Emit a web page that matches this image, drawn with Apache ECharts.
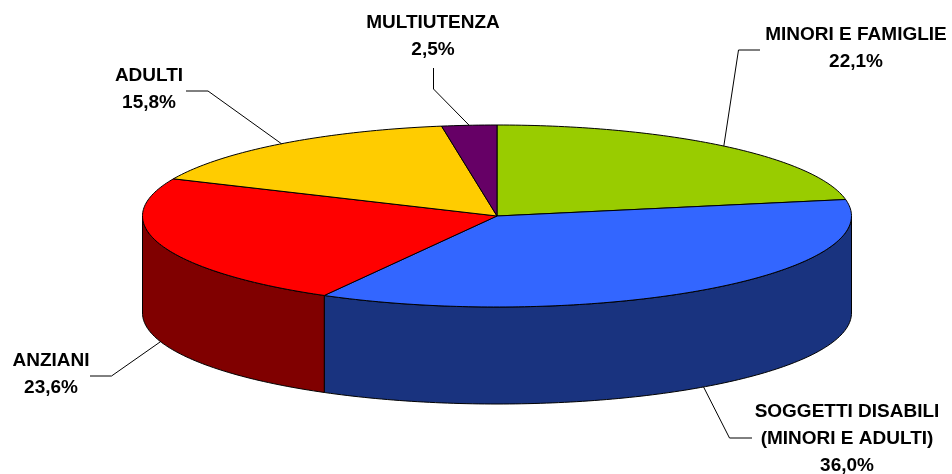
<!DOCTYPE html>
<html>
<head>
<meta charset="utf-8">
<style>
html, body { margin: 0; padding: 0; background: #fff; }
#chart { width: 952px; height: 474px; }
</style>
<script src="https://cdn.jsdelivr.net/npm/echarts@6/dist/echarts.min.js"></script>
</head>
<body>
<div id="chart"></div>
<script>
var categories = ['MINORI E FAMIGLIE', 'SOGGETTI DISABILI\n(MINORI E ADULTI)', 'ANZIANI', 'ADULTI', 'MULTIUTENZA'];
var values = [22.1, 36.0, 23.6, 15.8, 2.5];

var topColors = ['#99CC00', '#3366FF', '#FF0000', '#FFCC00', '#660066'];
var sideColors = ['#4D6600', '#19337F', '#800000', '#806600', '#330033'];

// disc geometry
var cx = 497, cy = 216, rx = 354.5, ry = 91, depth = 97;

// elbow of each leader line, end of it, centre of the label
var leaders = [
    { elbow: [738.5, 50], end: [760, 50], label: [856, 48] },
    { elbow: [729.5, 438], end: [752, 438], label: [847, 439] },
    { elbow: [111.5, 376], end: [90, 376], label: [51, 374] },
    { elbow: [208, 91], end: [186, 91], label: [149, 89] },
    { elbow: [433.5, 89], end: [433.5, 68], label: [433, 36] }
];

var total = values.reduce(function (a, b) { return a + b; }, 0);
var starts = [];
values.reduce(function (sum, v, i) { starts[i] = sum; return sum + v; }, 0);

function ellipsePoint(deg, dy) {
    let t = deg * Math.PI / 180;
    return [cx + rx * Math.sin(t), cy - ry * Math.cos(t) + (dy || 0)];
}
function arcPoints(from, to, dy) {
    let pts = [];
    for (let a = from; a < to; a += 1) {
        pts.push(ellipsePoint(a, dy));
    }
    pts.push(ellipsePoint(to, dy));
    return pts;
}
function sliceAngles(i, v) {
    let from = starts[i] / total * 360;
    return [from, from + v / total * 360];
}

function renderSide(params, api) {
    let a = sliceAngles(params.dataIndex, api.value(0));
    // only the front half of the wall can be seen
    let from = Math.max(a[0], 90), to = Math.min(a[1], 270);
    if (from >= to) return null;
    let pts = arcPoints(from, to, 0).concat(arcPoints(from, to, depth).reverse());
    return {
        type: 'polygon',
        shape: { points: pts },
        style: { fill: sideColors[params.dataIndex], stroke: '#000', lineWidth: 1 }
    };
}

function renderTop(params, api) {
    let a = sliceAngles(params.dataIndex, api.value(0));
    let pts = [[cx, cy]].concat(arcPoints(a[0], a[1], 0));
    return {
        type: 'polygon',
        shape: { points: pts },
        style: { fill: topColors[params.dataIndex], stroke: '#000', lineWidth: 1 }
    };
}

function renderLabel(params, api) {
    let i = params.dataIndex;
    let v = api.value(0);
    let a = sliceAngles(i, v);
    let mid = (a[0] + a[1]) / 2;
    let front = mid > 90 && mid < 270;
    let lead = leaders[i];
    return {
        type: 'group',
        children: [
            {
                type: 'polyline',
                shape: { points: [ellipsePoint(mid, front ? depth : 0), lead.elbow, lead.end] },
                style: { fill: null, stroke: '#000', lineWidth: 1 }
            },
            {
                type: 'text',
                x: lead.label[0],
                y: lead.label[1],
                style: {
                    text: categories[i] + '\n' + v.toFixed(1).replace('.', ',') + '%',
                    fill: '#000',
                    font: 'bold 19px "Liberation Sans", Arial, sans-serif',
                    lineHeight: 27,
                    align: 'center',
                    verticalAlign: 'middle'
                }
            }
        ]
    };
}

var seriesData = values.map(function (v) { return [v]; });
var myChart = echarts.init(document.getElementById('chart'));
myChart.setOption({
    backgroundColor: '#fff',
    animation: false,
    series: [
        { type: 'custom', coordinateSystem: 'none', data: seriesData, renderItem: renderSide, silent: true },
        { type: 'custom', coordinateSystem: 'none', data: seriesData, renderItem: renderTop, silent: true },
        { type: 'custom', coordinateSystem: 'none', data: seriesData, renderItem: renderLabel, silent: true }
    ]
});
</script>
</body>
</html>
